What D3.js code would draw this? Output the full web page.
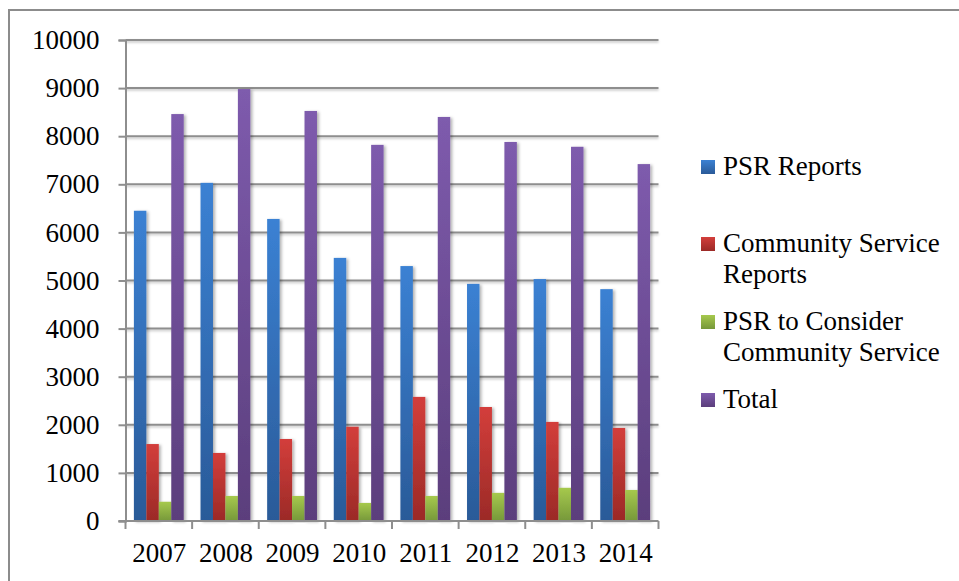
<!DOCTYPE html>
<html>
<head>
<meta charset="utf-8">
<script src="https://cdn.jsdelivr.net/npm/d3@7"></script>
<style>
  body { margin: 0; background: #fff; }
  svg { display: block; font-family: "Liberation Serif", serif; }
</style>
</head>
<body>
<svg width="959" height="581"></svg>
<script>
  // data
  const years = ["2007", "2008", "2009", "2010", "2011", "2012", "2013", "2014"];
  const seriesNames = ["PSR Reports", "Community Service Reports", "PSR to Consider Community Service", "Total"];
  const psrReports = [6450, 7030, 6280, 5470, 5300, 4930, 5030, 4820];
  const communityService = [1600, 1415, 1705, 1960, 2580, 2370, 2060, 1935];
  const psrConsiderCS = [400, 520, 520, 375, 520, 585, 690, 645];
  const total = [8460, 8980, 8525, 7820, 8400, 7880, 7780, 7420];
  const yTicks = [0, 1000, 2000, 3000, 4000, 5000, 6000, 7000, 8000, 9000, 10000];

  const seriesValues = [psrReports, communityService, psrConsiderCS, total];
  const colorsTop = ["#3b81d3", "#d33e3b", "#a6c94d", "#7e5bad"];
  const colorsBottom = ["#2a5a98", "#9b2a27", "#76983a", "#5b3e7c"];
  const legendLines = [["PSR Reports"], ["Community Service", "Reports"], ["PSR to Consider", "Community Service"], ["Total"]];

  const svg = d3.select("svg");
  const defs = svg.append("defs");

  seriesNames.forEach(function(s, i) {
    const grad = defs.append("linearGradient")
      .attr("id", "grad" + i)
      .attr("x1", 0).attr("y1", 0).attr("x2", 0).attr("y2", 1);
    grad.append("stop").attr("offset", "0%").attr("stop-color", colorsTop[i]);
    grad.append("stop").attr("offset", "100%").attr("stop-color", colorsBottom[i]);
    // legend swatches use their own bounding box so same gradient works
  });

  const shadow = defs.append("filter").attr("id", "shadow")
    .attr("x", "-20%").attr("y", "-5%").attr("width", "160%").attr("height", "110%");
  shadow.append("feDropShadow").attr("dx", 2).attr("dy", 1).attr("stdDeviation", 1.4)
    .attr("flood-color", "#000").attr("flood-opacity", 0.3);

  const gridShadow = defs.append("filter").attr("id", "gshadow")
    .attr("x", "-1%").attr("y", "-200%").attr("width", "102%").attr("height", "500%");
  gridShadow.append("feDropShadow").attr("dx", 0).attr("dy", 1.5).attr("stdDeviation", 1)
    .attr("flood-color", "#000").attr("flood-opacity", 0.25);

  // outer frame, cut off at right and bottom
  svg.append("rect")
    .attr("x", 9).attr("y", 10)
    .attr("width", 1000).attr("height", 640)
    .attr("fill", "none")
    .attr("stroke", "#8c8c8c")
    .attr("stroke-width", 2);

  const left = 125.5, right = 658.5;
  const x = d3.scaleBand().domain(years).range([left, right]);
  const xInner = d3.scaleBand().domain(d3.range(seriesNames.length))
    .range([8.4, x.bandwidth() - 8.4]);
  const y = d3.scaleLinear().domain([0, 10000]).range([521, 40]);

  // gridlines
  svg.append("g").attr("filter", "url(#gshadow)")
    .selectAll("line").data(yTicks.slice(1)).enter().append("line")
    .attr("x1", left).attr("x2", right)
    .attr("y1", function(d) { return y(d); })
    .attr("y2", function(d) { return y(d); })
    .attr("stroke", "#8e8e8e").attr("stroke-width", 2);

  // y axis
  const yAxis = svg.append("g")
    .attr("transform", "translate(" + left + ",0)")
    .call(d3.axisLeft(y).tickValues(yTicks).tickSize(7).tickPadding(19).tickFormat(d3.format("d")));
  yAxis.select(".domain").attr("stroke", "#8e8e8e").attr("stroke-width", 2);
  yAxis.selectAll(".tick line").attr("stroke", "#8e8e8e").attr("stroke-width", 2);
  yAxis.selectAll(".tick text")
    .attr("font-family", "Liberation Serif")
    .attr("font-size", 27).attr("fill", "#000");

  // bars
  const groups = svg.append("g").selectAll("g.year")
    .data(years).enter().append("g")
    .attr("class", "year")
    .attr("transform", function(d) { return "translate(" + x(d) + ",0)"; });

  groups.selectAll("rect")
    .data(function(d, yi) {
      return seriesValues.map(function(vals, si) { return { si: si, v: vals[yi] }; });
    })
    .enter().append("rect")
    .attr("x", function(d) { return xInner(d.si); })
    .attr("width", xInner.bandwidth())
    .attr("y", function(d) { return y(d.v); })
    .attr("height", function(d) { return y(0) - y(d.v); })
    .attr("fill", function(d) { return "url(#grad" + d.si + ")"; })
    .attr("filter", "url(#shadow)");

  // x axis baseline and ticks
  const xAxisG = svg.append("g");
  xAxisG.append("line")
    .attr("x1", left - 7).attr("x2", right)
    .attr("y1", y(0)).attr("y2", y(0))
    .attr("stroke", "#8e8e8e").attr("stroke-width", 2);
  xAxisG.selectAll("line.tick")
    .data(years.map(function(d) { return x(d); }).concat([right]))
    .enter().append("line")
    .attr("class", "tick")
    .attr("x1", function(d) { return d; }).attr("x2", function(d) { return d; })
    .attr("y1", y(0)).attr("y2", y(0) + 8)
    .attr("stroke", "#8e8e8e").attr("stroke-width", 2);
  xAxisG.selectAll("text")
    .data(years).enter().append("text")
    .attr("x", function(d) { return x(d) + x.bandwidth() / 2 + 0.5; })
    .attr("y", 562)
    .attr("text-anchor", "middle")
    .attr("font-size", 27)
    .text(function(d) { return d; });

  // legend
  const legendTop = [175, 252, 330, 408];
  const legend = svg.append("g").selectAll("g.legend")
    .data(seriesNames).enter().append("g")
    .attr("class", "legend")
    .attr("transform", function(d, i) { return "translate(701," + legendTop[i] + ")"; });

  legend.append("rect")
    .attr("x", 0).attr("y", -15)
    .attr("width", 14).attr("height", 14)
    .attr("fill", function(d, i) { return "url(#grad" + i + ")"; });

  legend.append("text")
    .attr("x", 22).attr("y", 0)
    .attr("font-size", 27)
    .attr("fill", "#000")
    .selectAll("tspan")
    .data(function(d, i) { return legendLines[i]; })
    .enter().append("tspan")
    .attr("x", 22)
    .attr("dy", function(d, j) { return j === 0 ? 0 : 31; })
    .text(function(d) { return d; });
</script>
</body>
</html>
